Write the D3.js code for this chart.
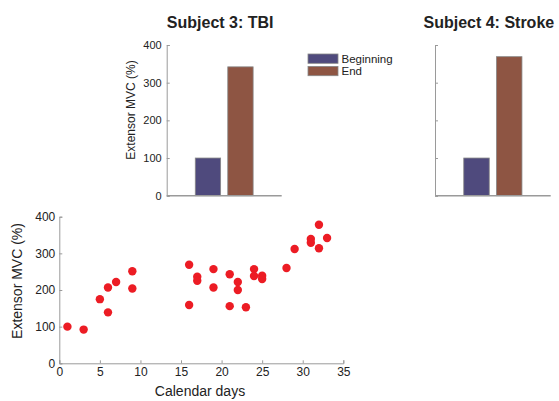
<!DOCTYPE html>
<html>
<head>
    <script src="https://d3js.org/d3.v7.min.js"></script>
    <style>
        body { margin: 0; background: #fff; }
        text { font-family: "Liberation Sans", Arial, sans-serif; fill: #222; }
    </style>
</head>
<body>
    <div id="chart"></div>
    <script>
        // bar charts: one group, two series
        const series = ["Beginning", "End"];
        const subject3 = [100, 342];
        const subject4 = [100, 369];
        const barTicks = [0, 100, 200, 300, 400];

        // scatter: subject 3 daily sessions
        const days = [1, 3, 5, 6, 6, 7, 9, 9, 16, 16, 17, 17, 19, 19, 21, 21, 22, 22, 23, 24, 24, 25, 25, 28, 29, 31, 31, 32, 32, 33];
        const mvc  = [100, 92, 175, 207, 139, 222, 251, 204, 269, 159, 236, 225, 257, 207, 243, 156, 222, 200, 153, 257, 238, 239, 230, 260, 312, 339, 329, 378, 314, 342];
        const xTicks = [0, 5, 10, 15, 20, 25, 30, 35];
        const yTicks = [0, 100, 200, 300, 400];

        const colors = ["#4f4a7d", "#8e5543"];
        const axisColor = "#9a9a9a";

        const svg = d3.select("#chart").append("svg")
            .attr("width", 559).attr("height", 401);

        ////////////////////////////////////////////////////////////
        function barChart(left, right, top, bottom, values, title, showLabels) {
            const g = svg.append("g");
            const y = d3.scaleLinear().domain([0, 400]).range([bottom, top]);
            const gx = d3.scaleLinear().domain([0.5, 1.5]).range([left, right]);
            const off = d3.scaleBand().domain(series).range([-0.2826, 0.2826]);
            const bw = off.bandwidth() * 0.78;

            g.selectAll("rect").data(values).enter().append("rect")
                .attr("x", (d, i) => gx(1 + off(series[i]) + off.bandwidth() / 2 - bw / 2))
                .attr("width", gx(1 + bw) - gx(1))
                .attr("y", d => y(d))
                .attr("height", d => bottom - y(d))
                .attr("fill", (d, i) => colors[i])
                .attr("stroke", "#888").attr("stroke-width", 0.8);

            const ax = d3.axisLeft(y).tickValues(barTicks).tickSize(-3).tickPadding(5)
                .tickFormat(showLabels ? d3.format("d") : "");
            const ga = g.append("g").attr("transform", `translate(${left},0)`).call(ax);
            ga.select(".domain").attr("stroke", axisColor);
            ga.selectAll(".tick line").attr("stroke", axisColor);
            ga.selectAll(".tick text").style("font-size", "11px").attr("fill", "#222");

            g.append("line").attr("x1", left).attr("x2", right)
                .attr("y1", bottom).attr("y2", bottom)
                .attr("stroke", axisColor).attr("stroke-width", 1.5);

            g.append("text").attr("x", (left + right) / 2 - 4).attr("y", 28)
                .attr("text-anchor", "middle").style("font-size", "16px").style("font-weight", "bold")
                .text(title);

            if (showLabels) {
                g.append("text").attr("transform", `translate(135,110) rotate(-90)`)
                    .attr("text-anchor", "middle").style("font-size", "12px")
                    .text("Extensor MVC (%)");
            }
        }

        barChart(166.7, 281.7, 45, 195.7, subject3, "Subject 3: TBI", true);
        barChart(435, 550.7, 45, 195.7, subject4, "Subject 4: Stroke", false);

        // legend
        const lg = svg.append("g").attr("transform", "translate(308,54)");
        series.forEach((s, i) => {
            lg.append("rect").attr("x", 0).attr("y", i * 12.4).attr("width", 30).attr("height", 9.3)
                .attr("fill", colors[i]).attr("stroke", "#888").attr("stroke-width", 0.8);
            lg.append("text").attr("x", 33.5).attr("y", i * 12.4 + 8.8)
                .style("font-size", "11.5px").text(s);
        });

        ////////////////////////////////////////////////////////////
        const sx = d3.scaleLinear().domain([0, 35]).range([59.3, 343.3]);
        const sy = d3.scaleLinear().domain([0, 400]).range([363.3, 216.7]);
        const sg = svg.append("g");

        const xa = sg.append("g").attr("transform", "translate(0,363.3)")
            .call(d3.axisBottom(sx).tickValues(xTicks).tickSize(-3).tickPadding(4));
        const ya = sg.append("g").attr("transform", "translate(59.3,0)")
            .call(d3.axisLeft(sy).tickValues(yTicks).tickSize(-3).tickPadding(4));
        [xa, ya].forEach(a => {
            a.select(".domain").attr("stroke", axisColor);
            a.selectAll(".tick line").attr("stroke", axisColor);
            a.selectAll(".tick text").style("font-size", "12px").attr("fill", "#222");
        });

        sg.selectAll("circle").data(days).enter().append("circle")
            .attr("cx", d => sx(d))
            .attr("cy", (d, i) => sy(mvc[i]))
            .attr("r", 4.2)
            .attr("fill", "#ec1c24");

        sg.append("text").attr("x", 200).attr("y", 396)
            .attr("text-anchor", "middle").style("font-size", "14px").text("Calendar days");
        sg.append("text").attr("transform", "translate(22,281) rotate(-90)")
            .attr("text-anchor", "middle").style("font-size", "14px").text("Extensor MVC (%)");
    </script>
</body>
</html>
